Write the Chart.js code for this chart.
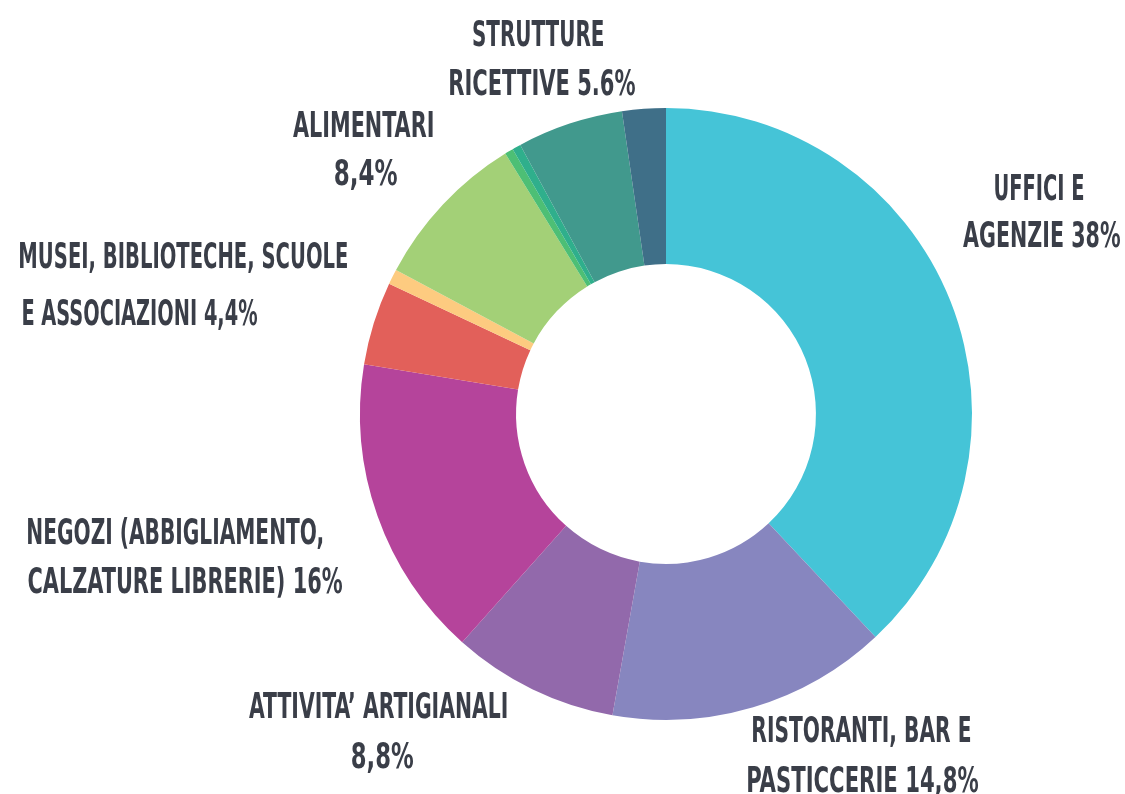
<!DOCTYPE html>
<html lang="it">
<head>
<meta charset="utf-8">
<title>Distribuzione attività</title>
<script src="https://cdn.jsdelivr.net/npm/chart.js@4.4.1/dist/chart.umd.min.js"></script>
<style>
    html, body { margin: 0; padding: 0; background: #ffffff; }
    #box { position: relative; width: 1125px; height: 794px; }
</style>
</head>
<body>
<div id="box"><canvas id="grafico"></canvas></div>
<script>
// Dati del grafico (in senso orario partendo dalle ore 12)
const categorie = [
    'Uffici e agenzie',
    'Ristoranti, bar e pasticcerie',
    'Attività artigianali',
    'Negozi (abbigliamento, calzature librerie)',
    'Musei, biblioteche, scuole e associazioni',
    'Altro 1',
    'Alimentari',
    'Altro 2',
    'Altro 3',
    'Strutture ricettive',
    'Altro 4'
];
const valori = [38, 14.8, 8.8, 16, 4.4, 0.8, 8.4, 0.45, 0.45, 5.6, 2.3];
const colori = ['#45c4d7', '#8786bf', '#9269ab', '#b5449b', '#e2605a', '#fdcb80',
                '#a3d077', '#4dbf75', '#2faf8c', '#41998d', '#3f6f88'];

// Testo delle etichette (due righe per categoria, vuoto = nessuna etichetta)
const etichette = [
    ['UFFICI E', 'AGENZIE 38%'],
    ['RISTORANTI, BAR E', 'PASTICCERIE 14,8%'],
    ['ATTIVITA’ ARTIGIANALI', '8,8%'],
    ['NEGOZI (ABBIGLIAMENTO,', 'CALZATURE LIBRERIE) 16%'],
    ['MUSEI, BIBLIOTECHE, SCUOLE', 'E ASSOCIAZIONI 4,4%'],
    [],
    ['ALIMENTARI', '8,4%'],
    [],
    [],
    ['STRUTTURE', 'RICETTIVE 5.6%'],
    []
];

// Posizione delle righe: [x sinistra, linea di base, larghezza]
const posizioni = [
    [[995, 200, 88], [963, 247, 157]],
    [[753, 742, 217], [748, 792, 230]],
    [[249, 718, 258], [352, 768, 61]],
    [[28, 544, 294], [28, 593, 314]],
    [[20, 268, 327], [23, 325, 234]],
    [],
    [[293, 137, 140], [335, 185, 62]],
    [],
    [],
    [[473, 46, 130], [450, 95, 185]],
    []
];

const ALTEZZA_MAIUSCOLE = 27;
const FONT = "bold 40px 'Liberation Sans Narrow', 'DejaVu Sans Condensed', 'Roboto', sans-serif";

// plugin per disegnare le etichette esterne
const pluginEtichette = {
    id: 'etichette',
    afterDraw(chart) {
        const ctx = chart.ctx;
        ctx.save();
        ctx.font = FONT;
        ctx.fillStyle = '#3a3e48';
        ctx.textBaseline = 'alphabetic';
        ctx.textAlign = 'left';
        const capH = ctx.measureText('H').actualBoundingBoxAscent;
        etichette.forEach((righe, i) => {
            righe.forEach((testo, j) => {
                const [x, y, w] = posizioni[i][j];
                const misura = ctx.measureText(testo);
                const larg = misura.actualBoundingBoxLeft + misura.actualBoundingBoxRight;
                ctx.save();
                ctx.translate(x, y);
                ctx.scale(w / larg, ALTEZZA_MAIUSCOLE / capH);
                ctx.fillText(testo, misura.actualBoundingBoxLeft, 0);
                ctx.restore();
            });
        });
        ctx.restore();
    }
};

new Chart(document.getElementById('grafico'), {
    type: 'doughnut',
    data: {
        labels: categorie,
        datasets: [{
            data: valori,
            backgroundColor: colori,
            borderWidth: 0,
            hoverOffset: 0
        }]
    },
    options: {
        responsive: true,
        maintainAspectRatio: false,
        animation: false,
        cutout: '49%',
        layout: {
            padding: { top: 107, bottom: 73, left: 360, right: 153 }
        },
        plugins: {
            legend: { display: false },
            tooltip: { enabled: false }
        }
    },
    plugins: [pluginEtichette]
});
</script>
</body>
</html>
